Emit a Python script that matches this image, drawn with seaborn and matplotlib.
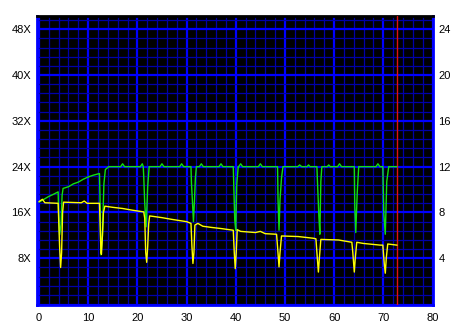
import numpy as np
import pandas as pd
import matplotlib
matplotlib.use("Agg")
import matplotlib.pyplot as plt
import seaborn as sns

# ---- data ----
green_x = [0.0, 1.0, 2.0, 3.0, 3.9, 4.0, 4.2, 4.5, 4.7, 4.9, 6.0, 7.0, 8.0, 9.0, 10.0, 11.0, 12.3,
           12.4, 12.6, 12.9, 13.2, 13.5, 14.2,
           16.6, 17.0, 17.4, 20.6, 21.0, 21.2,
           21.3, 21.5, 21.8, 22.1, 22.4,
           24.6, 25.0, 25.4, 28.6, 29.0, 29.4, 30.9,
           31.0, 31.2, 31.4, 31.6, 31.8, 32.0,
           32.6, 33.0, 33.4, 36.6, 37.0, 37.4, 39.5,
           39.6, 39.8, 40.0, 40.2, 40.5,
           40.6, 41.0, 41.4, 44.6, 45.0, 45.4, 48.5,
           48.6, 48.8, 49.0, 49.3, 49.6,
           52.6, 53.0, 53.4, 54.5, 54.8, 55.1, 56.5,
           56.6, 56.9, 57.1, 57.3, 57.5,
           58.6, 58.9, 59.2, 60.7, 61.1, 61.5, 64.1,
           64.2, 64.4, 64.7, 65.0,
           68.5, 68.9, 69.3, 69.9,
           70.1, 70.4, 70.7, 71.1, 72.8]
green_y = [17.8, 18.3, 18.8, 19.2, 19.6, 16.0, 12.1, 14.0, 19.0, 20.2, 20.5, 21.0, 21.3, 21.8, 22.2, 22.5, 22.8,
           19.0, 8.6, 12.0, 21.0, 23.5, 24.0,
           24.0, 24.5, 24.0, 24.0, 24.5, 24.0,
           22.2, 17.6, 13.5, 20.5, 24.0,
           24.0, 24.5, 24.0, 24.0, 24.5, 24.0, 24.0,
           21.1, 17.9, 14.4, 17.9, 22.0, 24.0,
           24.0, 24.5, 24.0, 24.0, 24.5, 24.0, 24.0,
           20.8, 14.7, 12.9, 20.8, 24.0,
           24.0, 24.5, 24.0, 24.0, 24.5, 24.0, 24.0,
           18.2, 12.9, 18.2, 22.0, 24.0,
           24.0, 24.3, 24.0, 24.0, 24.3, 24.0, 24.0,
           21.7, 15.3, 12.2, 21.4, 24.0,
           24.0, 24.3, 24.0, 24.0, 24.5, 24.0, 24.0,
           17.0, 12.5, 19.5, 24.0,
           24.0, 24.5, 24.0, 24.0,
           15.8, 12.2, 21.4, 24.0, 24.0]

yellow_x = [0.0, 0.7, 1.2, 3.9, 4.0, 4.2, 4.4, 4.6, 4.8, 5.0, 8.6, 9.2, 9.8, 12.3,
            12.4, 12.6, 12.7, 12.9, 13.1, 13.4, 15.0, 17.0, 19.0, 21.3,
            21.5, 21.7, 21.9, 22.1, 22.3, 22.5, 25.0, 27.0, 30.0, 30.9,
            31.1, 31.3, 31.5, 31.7, 32.3, 33.3, 35.0, 37.0, 39.5,
            39.7, 39.9, 40.1, 40.3, 41.0, 44.0, 45.0, 46.0, 48.3,
            48.5, 48.8, 49.0, 49.3, 52.7, 55.8, 56.3,
            56.5, 56.8, 57.0, 57.3, 60.9, 63.6,
            63.8, 64.1, 64.3, 64.6, 65.9, 69.4, 69.9,
            70.2, 70.4, 70.6, 70.9, 72.8]
yellow_y = [17.9, 18.3, 17.7, 17.6, 15.0, 10.0, 6.4, 9.0, 16.0, 17.8, 17.7, 18.0, 17.6, 17.6,
            15.0, 9.0, 8.7, 12.0, 16.0, 17.1, 16.9, 16.7, 16.4, 16.1,
            15.0, 9.0, 7.3, 10.0, 14.0, 15.4, 15.1, 14.8, 14.4, 14.1,
            10.0, 7.1, 9.0, 13.8, 14.1, 13.6, 13.4, 13.2, 12.9,
            9.0, 6.2, 9.0, 13.0, 12.7, 12.5, 12.7, 12.3, 12.2,
            10.0, 6.5, 9.0, 11.9, 11.8, 11.5, 11.4,
            9.0, 5.6, 8.0, 11.3, 11.2, 10.8,
            9.0, 5.6, 8.0, 10.8, 10.6, 10.3, 10.3,
            7.0, 5.4, 8.0, 10.5, 10.3]

marker_x = [72.85]

x_ticks = [0, 10, 20, 30, 40, 50, 60, 70, 80]
left_ticks = [8, 16, 24, 32, 40, 48]
left_labels = ["8X", "16X", "24X", "32X", "40X", "48X"]
right_ticks = [4, 8, 12, 16, 20, 24]
right_labels = ["4", "8", "12", "16", "20", "24"]

# ---- plotting ----
sns.set_theme(style="white")
plt.rcParams['font.family'] = ['Liberation Sans', 'DejaVu Sans']

fig = plt.figure(figsize=(4.51, 3.22), dpi=100)
fig.patch.set_facecolor("white")
ax = fig.add_axes([37/451, 1-305/322, (433-37)/451, (305-16)/322])
ax.set_facecolor("black")

gdf = pd.DataFrame({"x": green_x, "y": green_y})
ydf = pd.DataFrame({"x": yellow_x, "y": yellow_y})

major_c = "#0000FF"
minor_c = "#0000A8"

ax.set_xlim(-0.4, 80.1)
ax.set_ylim(-0.15, 50.3)
ax.set_xticks(x_ticks)
ax.set_xticks(np.arange(0, 81, 2), minor=True)
ax.set_yticks(left_ticks)
ax.set_yticks(np.arange(0, 50.3, 1.6), minor=True)
ax.set_yticklabels(left_labels)
ax.set_xticklabels([str(t) for t in x_ticks])
ax.grid(which="minor", color=minor_c, lw=0.9)
ax.grid(which="major", color=major_c, lw=1.6)
ax.set_axisbelow(True)
ax.tick_params(which="both", length=0)
ax.tick_params(axis="y", pad=4, labelsize=8, colors="black")
ax.tick_params(axis="x", pad=6, labelsize=8, colors="black")

ax.axvline(marker_x[0], color="#E01010", lw=1.0, zorder=3)

sns.lineplot(data=gdf, x="x", y="y", ax=ax, color="#10E010", lw=1.0,
             sort=False, estimator=None, zorder=4)
sns.lineplot(data=ydf, x="x", y="y", ax=ax, color="#FFFF00", lw=1.0,
             sort=False, estimator=None, zorder=5)
ax.set_xlabel("")
ax.set_ylabel("")

for s in ["left", "bottom", "right"]:
    ax.spines[s].set_color(major_c)
    ax.spines[s].set_linewidth(2.0)
ax.spines["top"].set_color("black")
ax.spines["top"].set_linewidth(2.0)

ax2 = ax.twinx()
ax2.set_ylim(-0.075, 25.15)
ax2.set_yticks(right_ticks)
ax2.set_yticklabels(right_labels)
ax2.tick_params(length=0, pad=4, labelsize=8, colors="black")
ax2.grid(False)
for s in ax2.spines.values():
    s.set_visible(False)

fig.savefig("out.png", dpi=100, facecolor="white")
